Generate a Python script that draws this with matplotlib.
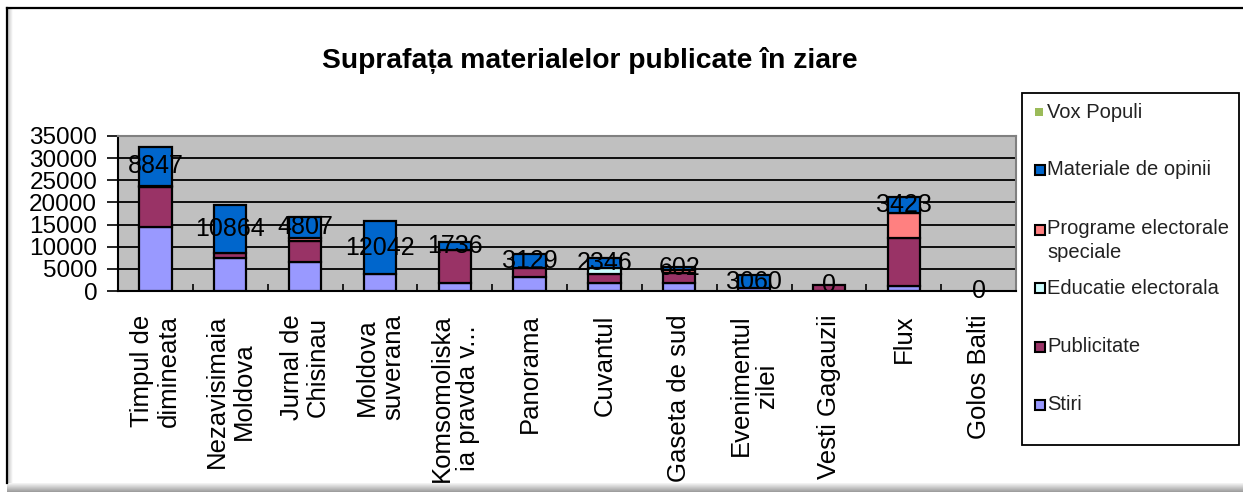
import matplotlib
matplotlib.use("Agg")
import matplotlib.pyplot as plt
import numpy as np
from matplotlib.patches import Rectangle
from matplotlib.lines import Line2D

plt.rcParams['font.family'] = ['Liberation Sans', 'DejaVu Sans']

# ---------------- data ----------------
categories = ["Timpul de\ndimineata", "Nezavisimaia\nMoldova", "Jurnal de\nChisinau",
              "Moldova\nsuverana", "Komsomoliska\nia pravda v...", "Panorama", "Cuvantul",
              "Gaseta de sud", "Evenimentul\nzilei", "Vesti Gagauzii", "Flux", "Golos Balti"]
stiri       = [14500, 7400, 6600, 3800, 1900, 3100, 1750, 1900, 600, 0, 1100, 0]
publicitate = [9000, 1200, 4600, 0, 7400, 2100, 2000, 2250, 0, 1300, 10800, 0]
educatie    = [0, 0, 0, 0, 0, 0, 1400, 0, 0, 0, 0, 0]
programe    = [200, 0, 800, 0, 0, 0, 0, 700, 0, 0, 5800, 0]
opinii      = [8847, 10864, 4807, 12042, 1736, 3129, 2346, 602, 3060, 0, 3423, 0]
vox_populi  = [0, 0, 0, 0, 0, 0, 0, 0, 0, 0, 0, 0]

series_names = ["Stiri", "Publicitate", "Educatie electorala",
                "Programe electorale\nspeciale", "Materiale de opinii", "Vox Populi"]
series_vals = [stiri, publicitate, educatie, programe, opinii, vox_populi]
series_colors = ["#9999FF", "#993366", "#CCFFFF", "#FF8080", "#0066CC", "#9BBB59"]
yticks = [0, 5000, 10000, 15000, 20000, 25000, 30000, 35000]
title = "Suprafața materialelor publicate în ziare"

# ---------------- figure ----------------
W, H = 1243, 492
fig = plt.figure(figsize=(W / 100, H / 100), dpi=100)
fig.patch.set_facecolor("white")

def fx(px):
    return px / W

def fy(py):
    return 1 - py / H

# outer chart frame (top/left border + shadow)
fig.add_artist(Line2D([fx(7), fx(7)], [fy(8), fy(483)], color="black", lw=1.6,
                      transform=fig.transFigure))
fig.add_artist(Line2D([fx(7), 1.0], [fy(8), fy(8)], color="black", lw=1.6,
                      transform=fig.transFigure))
for i, g in enumerate(np.linspace(0.95, 0.62, 9)):
    fig.add_artist(Rectangle((fx(7), fy(483 + i + 1)), 1, 1 / H, color=str(g),
                             transform=fig.transFigure, lw=0))
for i, g in enumerate(np.linspace(0.80, 0.98, 5)):
    fig.add_artist(Rectangle((fx(8 + i), fy(483)), 1 / W, fy(9) - fy(483), color=str(g),
                             transform=fig.transFigure, lw=0))

# plot area
left, right, top, bottom = 118, 1016, 136, 291
ax = fig.add_axes([fx(left), fy(bottom), fx(right - left), (bottom - top) / H])
ax.set_facecolor("#C0C0C0")

x = np.arange(len(categories))
base = np.zeros(len(categories))
bars_by_series = []
for name, vals, col in zip(series_names, series_vals, series_colors):
    lws = [1.6 if v > 0 else 0 for v in vals]
    b = ax.bar(x, vals, width=0.43, bottom=base, color=col, edgecolor="black",
               linewidth=lws, zorder=3, label=name)
    bars_by_series.append(b)
    base = base + np.array(vals)

# data labels on "Materiale de opinii"
ax.bar_label(bars_by_series[4], labels=[str(v) for v in opinii], label_type="center",
             fontsize=18, color="black", zorder=5)

ax.set_xlim(-0.5, len(categories) - 0.5)
ax.set_ylim(0, 35000)
ax.set_yticks(yticks)
ax.set_yticklabels([str(v) for v in yticks], fontsize=17.5)
ax.yaxis.grid(True, color="black", lw=1.3, zorder=1)
ax.set_axisbelow(True)
ax.tick_params(axis="y", length=8, width=1.2, pad=7, color="black")

ax.set_xticks(x)
ax.set_xticklabels(categories, rotation=90, ha="center", va="top",
                   multialignment="center", fontsize=18.5, linespacing=1.12)
ax.tick_params(axis="x", which="major", length=0, pad=17)
ax.set_xticks(np.arange(0.5, len(categories) - 1, 1.0), minor=True)
ax.tick_params(axis="x", which="minor", length=5, width=1.2, direction="in", color="black")

for side in ["top", "right"]:
    ax.spines[side].set_color("#808080")
    ax.spines[side].set_linewidth(1.5)
for side in ["left", "bottom"]:
    ax.spines[side].set_color("black")
    ax.spines[side].set_linewidth(1.5)

# title
fig.text(fx(590), fy(60), title, ha="center", va="center", fontsize=20.3,
         fontweight="bold", color="black")

# legend (manual, matching layout)
fig.add_artist(Rectangle((fx(1022), fy(445)), fx(1239 - 1022), (445 - 93) / H,
                         facecolor="white", edgecolor="black", lw=1.3,
                         transform=fig.transFigure))
leg_y = [112, 170, 230, 288, 347, 405]
for name, col, yy in zip(series_names[::-1], series_colors[::-1], leg_y):
    if name == "Vox Populi":
        fig.add_artist(Rectangle((fx(1035), fy(yy + 4)), fx(8), 8 / H, facecolor=col,
                                 edgecolor="none", transform=fig.transFigure))
    else:
        fig.add_artist(Rectangle((fx(1035), fy(yy + 5)), fx(10), 10 / H, facecolor=col,
                                 edgecolor="black", lw=1.5, transform=fig.transFigure))
    if "\n" in name:
        fig.text(fx(1047), fy(yy - 11), name, ha="left", va="top", fontsize=14.5,
                 color="#222222", linespacing=1.3)
    else:
        fig.text(fx(1047), fy(yy), name, ha="left", va="center", fontsize=14.5,
                 color="#222222")

fig.savefig("out.png", dpi=100)
